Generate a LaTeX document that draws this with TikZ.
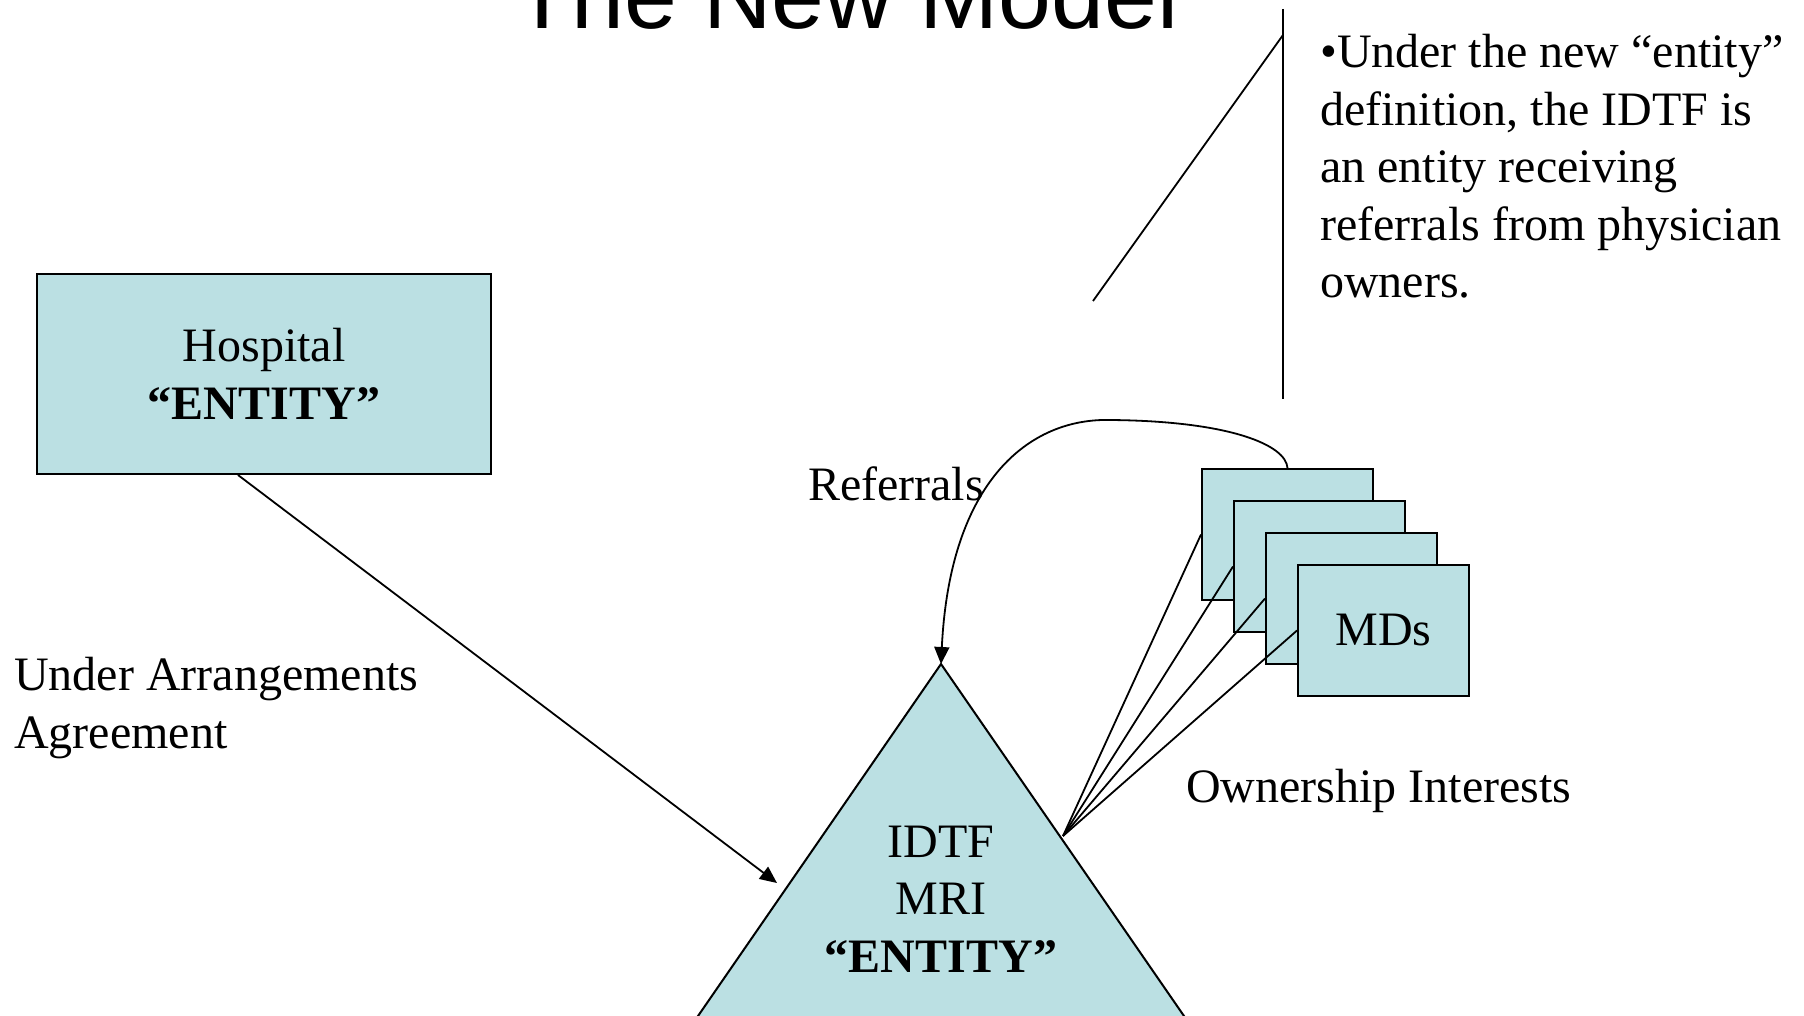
\documentclass[tikz,border=0pt]{standalone}
\usepackage{fontspec}
\setmainfont{Liberation Serif}
\newfontfamily\titlefont{Liberation Sans}
\usetikzlibrary{arrows.meta}
\definecolor{entityfill}{RGB}{187,224,227}
\tikzset{
  bodyfont/.style={font=\fontsize{48}{57.6}\selectfont},
  box/.style={draw=black, line width=2pt, fill=entityfill, inner sep=0pt, align=center, bodyfont},
  label/.style={bodyfont, inner sep=0pt},
  link/.style={draw=black, line width=1.8pt},
  arrowlink/.style={link, -{Triangle[length=17pt,width=15pt]}},
}
\begin{document}
\begin{tikzpicture}[x=1pt,y=-1pt]
\useasboundingbox (0,0) rectangle (1804,1016);
\clip (0,0) rectangle (1804,1016);

% title
\node[anchor=base, inner sep=0pt, font=\titlefont\fontsize{95}{114}\selectfont] (title) at (846,29) {The New Model};

% IDTF triangle (its base runs below the page)
\coordinate (apex) at (941,664);
\path[box] (apex) -- (620,1129) -- (1262,1129) -- cycle;
\node[label, align=center] (idtf) at (941,899) {IDTF\\MRI\\\textbf{“ENTITY”}};
\coordinate (own) at (1063,836);

% hospital
\node[box, minimum width=454pt, minimum height=200pt] (hosp) at (264,374) {Hospital\\\textbf{“ENTITY”}};

% stacked physician boxes
\node[box, minimum width=171pt, minimum height=131pt, anchor=north west] (md1) at (1201,468) {};
\node[box, minimum width=171pt, minimum height=131pt, anchor=north west] (md2) at (1233,500) {};
\node[box, minimum width=171pt, minimum height=131pt, anchor=north west] (md3) at (1265,532) {};
\node[box, minimum width=171pt, minimum height=131pt, anchor=north west] (md4) at (1297,564) {MDs};

% ownership lines
\foreach \m in {md1,md2,md3,md4} \draw[link] (own) -- (\m.west);

% referrals curve
\draw[arrowlink] (md1.north) .. controls (1286,445) and (1230,421) .. (1110,420)
  .. controls (1030,418) and (950,480) .. (apex);

% under arrangements arrow
\coordinate (arrA) at (777,883);
\draw[arrowlink] ([xshift=-26pt]hosp.south) -- (arrA);

% callout lines
\coordinate (cTop) at (1283,9);
\coordinate (cBot) at (1283,399);
\coordinate (dTop) at (1283,35);
\coordinate (dBot) at (1093,301);
\draw[link] (cTop) -- (cBot);
\draw[link] (dTop) -- (dBot);

% labels
\node[label, anchor=north west, align=left] (uaa) at (14,657) {Under Arrangements\\Agreement};
\node[label, anchor=base] (refl) at (896,500) {Referrals};
\node[label, anchor=base west] (ownlbl) at (1186,802) {Ownership Interests};
\node[label, anchor=north west, align=left] (note) at (1320,34) {•Under the new “entity”\\definition, the IDTF is\\an entity receiving\\referrals from physician\\owners.};
\end{tikzpicture}
\end{document}
